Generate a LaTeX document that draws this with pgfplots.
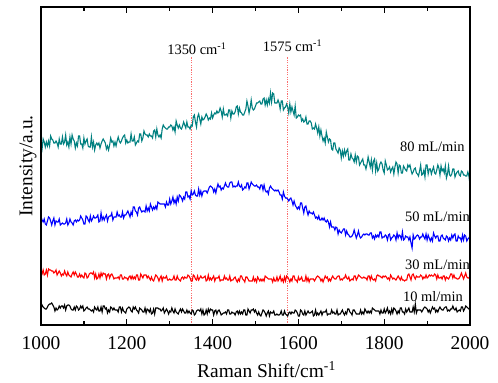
\documentclass[border=0pt]{standalone}
\usepackage{fontspec}
\setmainfont{Liberation Serif}
\usepackage{pgfplots}
\usepackage{pgfplotstable}
\pgfplotsset{compat=1.18}
\definecolor{tealc}{RGB}{0,128,128}
\definecolor{dotred}{RGB}{250,110,110}

\begin{document}
\pgfplotstableread{
x k r b t
1000 16 53 108 181
1002.5 20 51 105 176
1005 18 55 103 186
1007.5 17 50 106 183
1010 16 51 101 178
1012.5 16 55 100 183
1015 18 50 104 179
1017.5 20 56 108 184
1020 21 55 107 179
1022.5 21 55 104 189
1025 22 54 100 186
1027.5 20 54 104 185
1030 18 52 107 182
1032.5 14 53 100 182
1035 17 55 104 184
1037.5 15 50 103 182
1040 16 52 103 178
1042.5 19 54 106 186
1045 17 52 100 181
1047.5 19 49 101 181
1050 19 51 102 188
1052.5 17 50 101 181
1055 20 54 101 183
1057.5 15 51 102 190
1060 19 49 106 180
1062.5 20 53 100 183
1065 20 50 102 178
1067.5 19 49 106 188
1070 16 48 103 181
1072.5 15 51 102 190
1075 15 53 100 186
1077.5 18 50 104 184
1080 15 53 105 177
1082.5 19 51 103 182
1085 18 48 105 179
1087.5 15 48 104 189
1090 16 51 105 189
1092.5 19 48 109 181
1095 17 50 107 181
1097.5 19 48 105 177
1100 14 47 101 187
1102.5 15 52 101 181
1105 17 51 109 184
1107.5 18 47 108 186
1110 16 48 105 179
1112.5 16 51 103 178
1115 15 52 109 178
1117.5 14 52 104 188
1120 15 51 106 178
1122.5 13 53 109 183
1125 18 47 107 175
1127.5 16 51 107 180
1130 15 46 108 182
1132.5 18 47 110 180
1135 14 51 103 182
1137.5 14 47 104 177
1140 18 52 112 181
1142.5 13 49 105 184
1145 19 52 108 186
1147.5 19 51 105 184
1150 16 51 108 182
1152.5 17 46 110 176
1155 12 50 104 179
1157.5 15 51 108 175
1160 13 47 109 180
1162.5 18 50 109 187
1165 17 51 112 183
1167.5 15 49 105 184
1170 17 46 108 179
1172.5 15 47 108 183
1175 15 47 108 179
1177.5 15 47 113 184
1180 13 48 109 188
1182.5 18 46 110 184
1185 18 50 108 182
1187.5 13 50 108 184
1190 17 46 113 187
1192.5 14 46 107 189
1195 13 48 110 190
1197.5 12 47 110 182
1200 16 47 112 185
1202.5 17 45 114 182
1205 18 48 111 183
1207.5 17 49 108 183
1210 14 46 113 191
1212.5 13 49 110 184
1215 18 46 118 184
1217.5 16 48 118 188
1220 18 46 114 180
1222.5 15 50 113 182
1225 14 50 110 184
1227.5 12 45 117 183
1230 17 45 118 191
1232.5 16 51 115 191
1235 15 49 113 184
1237.5 13 47 114 187
1240 13 50 114 194
1242.5 17 50 113 191
1245 12 50 119 190
1247.5 16 47 114 190
1250 15 49 117 188
1252.5 13 47 114 191
1255 16 45 121 189
1257.5 11 48 118 189
1260 12 45 115 187
1262.5 16 44 118 194
1265 11 47 116 195
1267.5 17 50 119 188
1270 17 49 116 196
1272.5 17 47 123 190
1275 16 44 122 188
1277.5 16 47 121 190
1280 14 49 121 187
1282.5 15 44 121 196
1285 17 48 121 200
1287.5 12 47 121 198
1290 14 47 118 197
1292.5 16 49 123 196
1295 14 45 120 196
1297.5 11 45 120 198
1300 14 46 126 198
1302.5 13 45 121 200
1305 17 45 124 199
1307.5 14 46 128 195
1310 12 49 122 198
1312.5 16 45 125 193
1315 13 45 121 204
1317.5 12 49 128 200
1320 11 46 124 197
1322.5 14 45 130 200
1325 16 44 129 197
1327.5 13 47 127 196
1330 16 48 124 199
1332.5 14 46 128 203
1335 12 48 126 200
1337.5 12 47 133 197
1340 15 47 133 203
1342.5 12 50 128 198
1345 14 49 129 198
1347.5 12 47 126 196
1350 11 44 134 200
1352.5 15 44 130 199
1355 14 50 131 208
1357.5 10 49 134 210
1360 11 46 130 203
1362.5 14 45 129 198
1365 15 49 129 208
1367.5 15 45 136 211
1370 14 47 130 206
1372.5 16 49 134 201
1375 11 47 129 208
1377.5 15 47 133 205
1380 10 48 134 206
1382.5 11 49 134 208
1385 15 44 134 211
1387.5 11 45 132 209
1390 16 50 135 205
1392.5 13 45 138 207
1395 16 47 139 206
1397.5 15 45 138 212
1400 15 47 137 207
1402.5 10 49 133 210
1405 14 44 136 212
1407.5 15 47 132 211
1410 11 47 137 214
1412.5 14 47 141 212
1415 15 49 138 213
1417.5 13 44 139 217
1420 10 45 135 214
1422.5 11 45 137 208
1425 12 45 136 216
1427.5 12 49 139 210
1430 13 46 142 210
1432.5 11 47 139 211
1435 15 45 138 209
1437.5 15 45 138 215
1440 11 49 142 215
1442.5 11 44 143 207
1445 13 45 143 214
1447.5 12 45 138 211
1450 12 47 139 211
1452.5 10 48 138 213
1455 13 45 139 218
1457.5 14 43 139 219
1460 11 46 143 211
1462.5 14 44 139 217
1465 11 49 138 213
1467.5 13 49 140 212
1470 11 46 135 210
1472.5 15 45 136 210
1475 15 43 138 213
1477.5 10 48 137 216
1480 10 48 142 224
1482.5 16 46 142 219
1485 14 44 136 212
1487.5 12 44 139 217
1490 15 44 143 225
1492.5 15 44 141 217
1495 16 48 140 215
1497.5 13 44 139 216
1500 15 46 139 219
1502.5 12 43 140 222
1505 10 48 138 222
1507.5 13 46 138 223
1510 10 44 136 224
1512.5 9 46 140 221
1515 12 44 140 221
1517.5 15 46 135 226
1520 14 44 140 227
1522.5 12 49 135 220
1525 9 48 133 225
1527.5 12 47 134 220
1530 14 46 131 226
1532.5 9 46 137 222
1535 13 46 139 232
1537.5 12 46 137 223
1540 12 43 136 232
1542.5 14 47 135 231
1545 10 44 134 222
1547.5 10 44 135 222
1550 11 48 134 222
1552.5 10 44 135 225
1555 10 46 133 222
1557.5 11 49 130 216
1560 14 44 130 224
1562.5 10 46 126 224
1565 10 43 133 215
1567.5 14 48 129 217
1570 11 44 127 218
1572.5 10 49 127 221
1575 9 48 126 218
1577.5 12 46 124 212
1580 13 43 126 221
1582.5 11 46 127 213
1585 13 44 124 218
1587.5 12 49 120 214
1590 12 49 124 210
1592.5 15 45 120 219
1595 14 45 118 207
1597.5 12 43 116 208
1600 9 48 118 210
1602.5 9 45 116 209
1605 15 46 122 210
1607.5 14 48 122 204
1610 11 44 117 206
1612.5 10 44 112 203
1615 14 44 118 204
1617.5 10 49 119 208
1620 12 44 114 201
1622.5 14 47 110 201
1625 12 43 114 204
1627.5 12 46 112 204
1630 13 46 112 202
1632.5 14 46 111 196
1635 9 46 113 197
1637.5 10 44 110 196
1640 15 46 107 201
1642.5 10 48 108 197
1645 12 49 106 192
1647.5 10 48 109 198
1650 12 47 105 189
1652.5 14 44 105 195
1655 10 46 107 189
1657.5 13 43 105 184
1660 13 46 107 187
1662.5 13 49 104 182
1665 15 47 103 193
1667.5 10 48 105 188
1670 11 44 103 183
1672.5 11 46 98 186
1675 11 44 103 185
1677.5 15 47 98 176
1680 12 49 98 175
1682.5 13 47 98 182
1685 11 46 95 182
1687.5 11 46 98 176
1690 15 48 97 174
1692.5 10 49 91 172
1695 11 49 95 177
1697.5 11 45 93 175
1700 13 46 92 167
1702.5 15 45 94 174
1705 12 47 96 169
1707.5 10 47 96 175
1710 13 50 90 170
1712.5 11 47 94 174
1715 16 46 91 176
1717.5 16 48 90 165
1720 13 44 88 165
1722.5 12 45 88 171
1725 10 46 89 167
1727.5 15 45 91 166
1730 15 49 95 163
1732.5 13 49 91 170
1735 11 45 87 163
1737.5 11 47 90 169
1740 11 50 94 168
1742.5 11 49 89 160
1745 15 48 87 162
1747.5 11 47 88 164
1750 13 47 90 166
1752.5 11 48 91 160
1755 16 47 90 160
1757.5 14 47 91 156
1760 12 45 91 161
1762.5 14 49 90 168
1765 12 49 90 163
1767.5 14 45 92 158
1770 12 49 92 165
1772.5 17 46 87 155
1775 16 45 89 164
1777.5 15 46 86 166
1780 14 44 90 154
1782.5 14 49 88 162
1785 14 50 90 154
1787.5 14 49 88 156
1790 11 49 93 161
1792.5 15 48 93 163
1795 12 47 87 161
1797.5 12 49 88 155
1800 16 48 88 152
1802.5 12 49 90 164
1805 14 48 89 160
1807.5 17 46 85 155
1810 12 47 90 156
1812.5 14 45 91 158
1815 11 50 85 153
1817.5 16 48 87 156
1820 12 46 88 158
1822.5 17 47 90 151
1825 16 46 89 158
1827.5 14 45 85 163
1830 11 47 92 161
1832.5 14 49 87 152
1835 12 47 90 160
1837.5 17 45 89 159
1840 17 48 86 152
1842.5 13 45 93 152
1845 13 45 85 159
1847.5 11 44 86 157
1850 16 45 89 155
1852.5 13 45 88 154
1855 15 50 88 160
1857.5 17 51 85 158
1860 13 48 88 160
1862.5 13 45 82 155
1865 13 50 77 151
1867.5 18 51 90 153
1870 13 48 86 156
1872.5 21 46 87 157
1875 12 49 89 152
1877.5 15 48 90 151
1880 15 48 89 149
1882.5 15 48 86 154
1885 15 50 88 160
1887.5 13 49 88 150
1890 15 46 91 151
1892.5 17 48 88 155
1895 18 47 86 148
1897.5 17 50 91 160
1900 16 47 85 160
1902.5 13 48 90 151
1905 15 50 87 156
1907.5 12 49 84 156
1910 15 50 87 151
1912.5 18 49 84 155
1915 16 49 92 158
1917.5 17 51 89 152
1920 13 50 87 151
1922.5 15 46 89 155
1925 13 50 89 160
1927.5 16 47 84 157
1930 18 47 84 150
1932.5 16 48 89 159
1935 15 46 90 154
1937.5 15 49 87 156
1940 17 49 86 152
1942.5 18 45 85 159
1945 18 48 89 147
1947.5 14 47 88 151
1950 15 46 84 159
1952.5 14 48 87 150
1955 16 51 85 149
1957.5 16 51 90 151
1960 19 47 87 156
1962.5 16 50 90 156
1965 15 47 91 148
1967.5 17 47 84 151
1970 13 46 84 153
1972.5 14 46 89 154
1975 15 47 87 150
1977.5 14 49 87 149
1980 18 52 84 154
1982.5 18 49 90 153
1985 14 46 85 150
1987.5 16 49 90 150
1990 19 52 89 149
1992.5 18 48 84 149
1995 17 47 86 153
1997.5 16 47 87 149
2000 16 49 89 140
}\ramandata
\begin{tikzpicture}
\begin{axis}[
  scale only axis,
  width=429bp, height=318bp,
  xmin=1000, xmax=2000, ymin=0, ymax=318,
  xtick={1000,1200,...,2000},
  minor x tick num=1,
  ytick=\empty,
  minor ytick={19.8,39.6,59.4,79.2,99,118.8,138.6,158.4,178.2,198,217.8,237.6,257.4,277.2,297,316.8},
  tick align=inside,
  major tick length=6bp,
  minor tick length=4.5bp,
  every tick/.style={black, line width=1.2bp},
  axis line style={line width=1.2bp},
  axis on top,
  /pgf/number format/assume math mode=true,
  /pgf/number format/1000 sep={},
  tick label style={font=\fontsize{19.5}{23}\selectfont},
  xticklabel style={yshift=-8bp},
  xlabel={Raman Shift/cm\textsuperscript{-1}},
  ylabel={Intensity/a.u.},
  label style={font=\fontsize{19.5}{23}\selectfont},
  xlabel style={yshift=-5bp, xshift=11bp},
  ylabel style={yshift=1bp},
  clip=false,
]
\addplot[dotred, line width=1bp, dash pattern=on 1.2bp off 1.2bp] coordinates {(1350,0) (1350,268)};
\addplot[dotred, line width=1bp, dash pattern=on 1.2bp off 1.2bp] coordinates {(1575,0) (1575,268)};
\addplot[black, line width=1.1bp] table[x=x, y=k] {\ramandata};
\addplot[red, line width=1.1bp] table[x=x, y=r] {\ramandata};
\addplot[blue, line width=1.1bp] table[x=x, y=b] {\ramandata};
\addplot[tealc, line width=1.1bp] table[x=x, y=t] {\ramandata};
\node[anchor=base west, font=\fontsize{14.5}{17}\selectfont, inner sep=0pt] at (axis cs:1294,270) {1350 cm\textsuperscript{-1}};
\node[anchor=base west, font=\fontsize{14.5}{17}\selectfont, inner sep=0pt] at (axis cs:1517,273) {1575 cm\textsuperscript{-1}};
\node[anchor=base east, font=\fontsize{14.5}{17}\selectfont, inner sep=0pt] at (axis cs:1988,173) {80 mL/min};
\node[anchor=base east, font=\fontsize{14.5}{17}\selectfont, inner sep=0pt] at (axis cs:2000,103) {50 mL/min};
\node[anchor=base east, font=\fontsize{14.5}{17}\selectfont, inner sep=0pt] at (axis cs:2000,56) {30 mL/min};
\node[anchor=base east, font=\fontsize{14.5}{17}\selectfont, inner sep=0pt] at (axis cs:1984,24) {10 ml/min};
\end{axis}
\pgfresetboundingbox
\path ([shift={(-41bp,-58bp)}]current axis.south west) rectangle ([shift={(28bp,7bp)}]current axis.north east);
\end{tikzpicture}
\end{document}
